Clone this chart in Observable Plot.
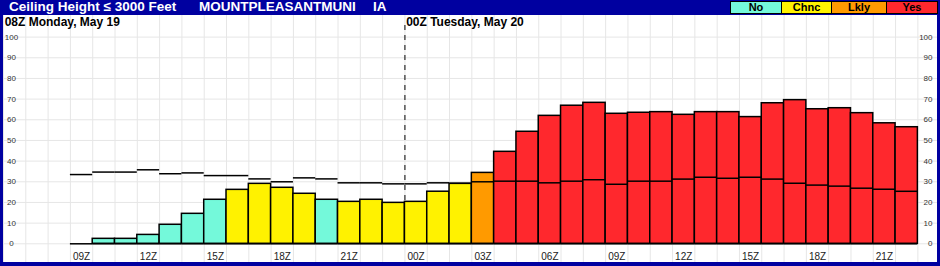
<!DOCTYPE html>
<html>
<head>
<meta charset="utf-8">
<script src="https://cdn.jsdelivr.net/npm/d3@7"></script>
<script src="https://cdn.jsdelivr.net/npm/@observablehq/plot@0.6"></script>
<style>
  html, body { margin: 0; padding: 0; background: #fff; }
  body { font-family: "Liberation Sans", Arial, Helvetica, sans-serif; }
  #wrap { position: relative; width: 940px; height: 266px; background: #0000A0; overflow: hidden; }
  .title { position: absolute; top: 0; height: 13px; line-height: 13px; font-size: 13.5px; font-weight: bold; color: #fff; white-space: nowrap; }
  #legend { position: absolute; left: 730px; top: 1px; width: 208px; height: 13px; box-sizing: border-box;
            border: 1px solid #000; display: flex; }
  #legend div { box-sizing: border-box; height: 11px; line-height: 11px; font-size: 11px; font-weight: bold;
                color: #000; text-align: center; }
  #legend div + div { border-left: 1px solid #000; }
  #chart { position: absolute; left: 3px; top: 15px; width: 934px; height: 247px; background: #fff; }
  #chart svg { display: block; }
</style>
</head>
<body>
<div id="wrap">
  <div class="title" style="left:9px">Ceiling Height ≤ 3000 Feet</div>
  <div class="title" style="left:199px">MOUNTPLEASANTMUNI</div>
  <div class="title" style="left:373px">IA</div>
  <div id="legend"></div>
  <div id="chart"></div>
</div>
<script>
// ---- data ----
const hours = ["09Z","10Z","11Z","12Z","13Z","14Z","15Z","16Z","17Z","18Z","19Z","20Z","21Z","22Z","23Z",
               "00Z","01Z","02Z","03Z","04Z","05Z","06Z","07Z","08Z","09Z","10Z","11Z","12Z","13Z","14Z",
               "15Z","16Z","17Z","18Z","19Z","20Z","21Z","22Z"];
const categories = ["No","No","No","No","No","No","No","Chnc","Chnc","Chnc","Chnc","No","Chnc","Chnc","Chnc",
                    "Chnc","Chnc","Chnc","Lkly","Yes","Yes","Yes","Yes","Yes","Yes","Yes","Yes","Yes","Yes","Yes",
                    "Yes","Yes","Yes","Yes","Yes","Yes","Yes","Yes"];
const barValues = [0, 2.4, 2.4, 4.3, 9.2, 14.5, 21.3, 26.1, 29.0, 27.1, 24.2, 21.3, 20.3, 21.3, 19.8,
                   20.3, 25.2, 29.0, 34.3, 44.5, 54.2, 61.9, 66.8, 68.2, 62.9, 63.4, 63.7, 62.4, 63.7, 63.7,
                   61.3, 68.0, 69.5, 65.1, 65.6, 63.2, 58.3, 56.4];
const lineValues = [33.5, 34.7, 34.7, 35.8, 33.9, 34.3, 33.0, 33.0, 31.4, 30.0, 31.9, 31.4, 29.5, 29.5, 29.0,
                    29.0, 29.5, 29.3, 30.0, 30.3, 30.3, 29.5, 30.3, 31.0, 28.8, 30.3, 30.3, 31.3, 32.2, 31.7,
                    32.2, 31.3, 29.3, 28.4, 27.9, 26.9, 26.4, 25.4];
const yTicks = [0, 10, 20, 30, 40, 50, 60, 70, 80, 90, 100];
const dateLabels = ["08Z Monday, May 19", "00Z Tuesday, May 20"];
const legendLabels = ["No", "Chnc", "Lkly", "Yes"];
const legendColors = ["#74F9DA", "#FFF200", "#FF9A00", "#FF282D"];

// ---- legend (HTML) ----
const legendWidths = [50, 50, 55, 51];
const legend = document.getElementById("legend");
legendLabels.forEach((l, k) => {
  const d = document.createElement("div");
  d.textContent = l;
  d.style.background = legendColors[k];
  d.style.width = legendWidths[k] + "px";
  legend.appendChild(d);
});

// ---- chart ----
const data = hours.map((h, i) => ({i, h, v: barValues[i], line: lineValues[i], cat: categories[i]}));
const xDomain = [-3.5, 38.38];
const grid = d3.range(-3, hours.length + 1).map(i => i - 0.5);
const xTicks = data.filter(d => d.i % 3 === 0).map(d => d.i);
const dayBoundary = hours.indexOf("00Z") - 0.5;
const dates = [{x: xDomain[0], t: dateLabels[0]}, {x: dayBoundary, t: dateLabels[1]}];

const mT = 21.6, mB = 18.7;
const chart = Plot.plot({
  width: 934, height: 247,
  marginLeft: 0, marginRight: 0, marginTop: mT, marginBottom: mB,
  x: {type: "linear", domain: xDomain, axis: null},
  y: {domain: [0, 100], axis: null},
  color: {domain: legendLabels, range: legendColors},
  style: {background: "white", fontFamily: '"Liberation Sans", Arial, Helvetica, sans-serif', overflow: "visible"},
  marks: [
    Plot.ruleY(yTicks, {stroke: "#e6e6e6", strokeWidth: 1}),
    Plot.ruleX(grid, {stroke: "#e6e6e6", strokeWidth: 1, insetTop: -mT, insetBottom: -mB}),
    Plot.ruleX([dayBoundary], {stroke: "black", strokeWidth: 1, strokeDasharray: "5,5", insetTop: -11.6}),
    Plot.rect(data, {x1: d => d.i - 0.5, x2: d => d.i + 0.5, y1: () => 0, y2: "v",
                     fill: "cat", stroke: "black", strokeWidth: 1.5}),
    Plot.ruleY(data, {y: () => 0, x1: d => d.i - 0.5, x2: d => d.i + 0.5, stroke: "black", strokeWidth: 1.5}),
    Plot.ruleY(data, {y: "line", x1: d => d.i - 0.5, x2: d => d.i + 0.5, stroke: "black", strokeWidth: 1.5}),
    Plot.axisY({anchor: "left", ticks: yTicks, tickSize: 0, tickPadding: 0, textAnchor: "middle",
                dx: 8, fontSize: 8, color: "#333", label: null}),
    Plot.axisY({anchor: "right", ticks: yTicks, tickSize: 0, tickPadding: 0, textAnchor: "end",
                dx: -5, fontSize: 8, color: "#333", label: null}),
    Plot.axisX({anchor: "bottom", ticks: xTicks, tickFormat: i => hours[i], tickSize: 0, tickPadding: 9,
                fontSize: 10, color: "#222", label: null}),
    Plot.text(dates, {x: "x", text: "t", frameAnchor: "top", textAnchor: "start", lineAnchor: "middle",
                      dx: 1.2, dy: -15.3, fontSize: 12, fontWeight: "bold", fill: "black"})
  ]
});
document.getElementById("chart").appendChild(chart);
</script>
</body>
</html>
